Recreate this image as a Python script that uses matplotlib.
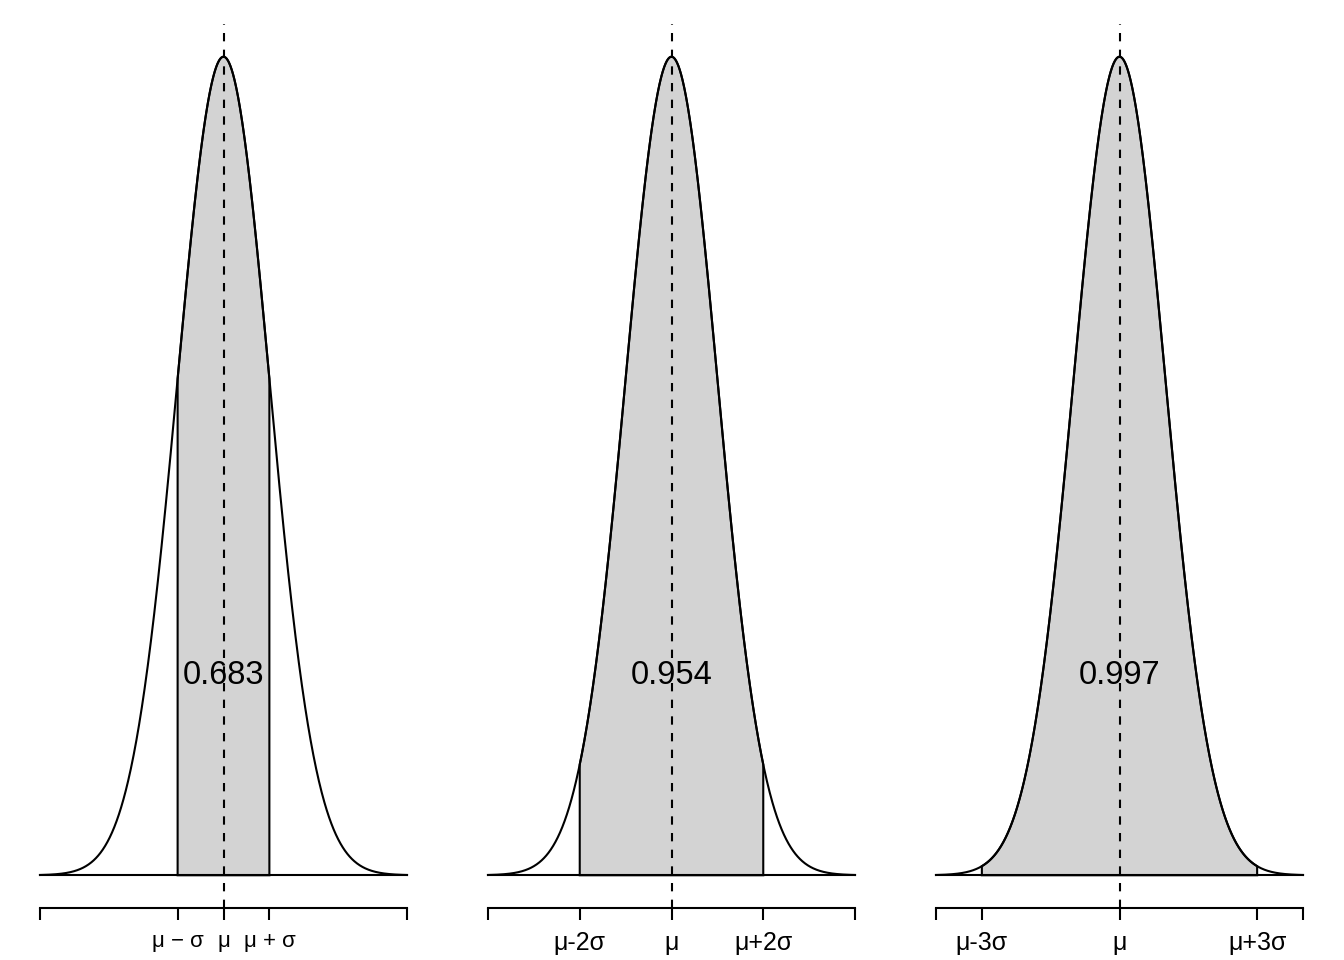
import numpy as np
import matplotlib
matplotlib.use("Agg")
import matplotlib.pyplot as plt

plt.rcParams["font.family"] = ["Liberation Sans", "DejaVu Sans"]

# data
ks = [1, 2, 3]
probs = ["0.683", "0.954", "0.997"]
tick_pos = [[-4, -1, 0, 1, 4], [-4, -2, 0, 2, 4], [-4, -3, 0, 3, 4]]
tick_labels = [
    ["", "μ − σ", "μ", "μ + σ", ""],
    ["", "μ-2σ", "μ", "μ+2σ", ""],
    ["", "μ-3σ", "μ", "μ+3σ", ""],
]
x_lo, x_hi = -4, 4
label_y = 0.0974

SHADE = "#D3D3D3"
LW = 1.5

def dnorm(x):
    return np.exp(-x ** 2 / 2) / np.sqrt(2 * np.pi)

fig = plt.figure(figsize=(13.44, 9.6), dpi=100)
W, H = 1344, 960
panel_w = 448

xs = np.linspace(x_lo, x_hi, 801)
ys = dnorm(xs)
ymax = dnorm(0)

for i, k in enumerate(ks):
    left = (i * panel_w + 25.3) / W
    ax = fig.add_axes([left, 52 / H, 396.4 / W, 884 / H])
    ax.set_xlim(x_lo - 0.04 * (x_hi - x_lo), x_hi + 0.04 * (x_hi - x_lo))
    ax.set_ylim(-0.04 * ymax, ymax * 1.04)

    # shaded area between -k and k
    xf = np.linspace(-k, k, 401)
    px = np.concatenate([[-k], xf, [k]])
    py = np.concatenate([[0], dnorm(xf), [0]])
    ax.fill(px, py, facecolor=SHADE, edgecolor="black", linewidth=LW, zorder=1)

    ax.plot(xs, ys, color="black", linewidth=LW, zorder=2)
    ax.plot([x_lo, x_hi], [0, 0], color="black", linewidth=LW, zorder=2)

    ax.text(0, label_y, probs[i], ha="center", va="center", fontsize=23.5, zorder=3)
    ax.axvline(0, color="black", linewidth=LW, linestyle=(0, (4, 4)), zorder=4)

    for s in ["top", "right", "left"]:
        ax.spines[s].set_visible(False)
    ax.spines["bottom"].set_bounds(x_lo, x_hi)
    ax.spines["bottom"].set_linewidth(LW)
    ax.set_yticks([])
    ax.set_xticks(tick_pos[i])
    ax.set_xticklabels(tick_labels[i], fontsize=16 if i == 0 else 18)
    ax.tick_params(axis="x", length=8.5, width=LW, pad=8)

fig.savefig("out.png", dpi=100)
